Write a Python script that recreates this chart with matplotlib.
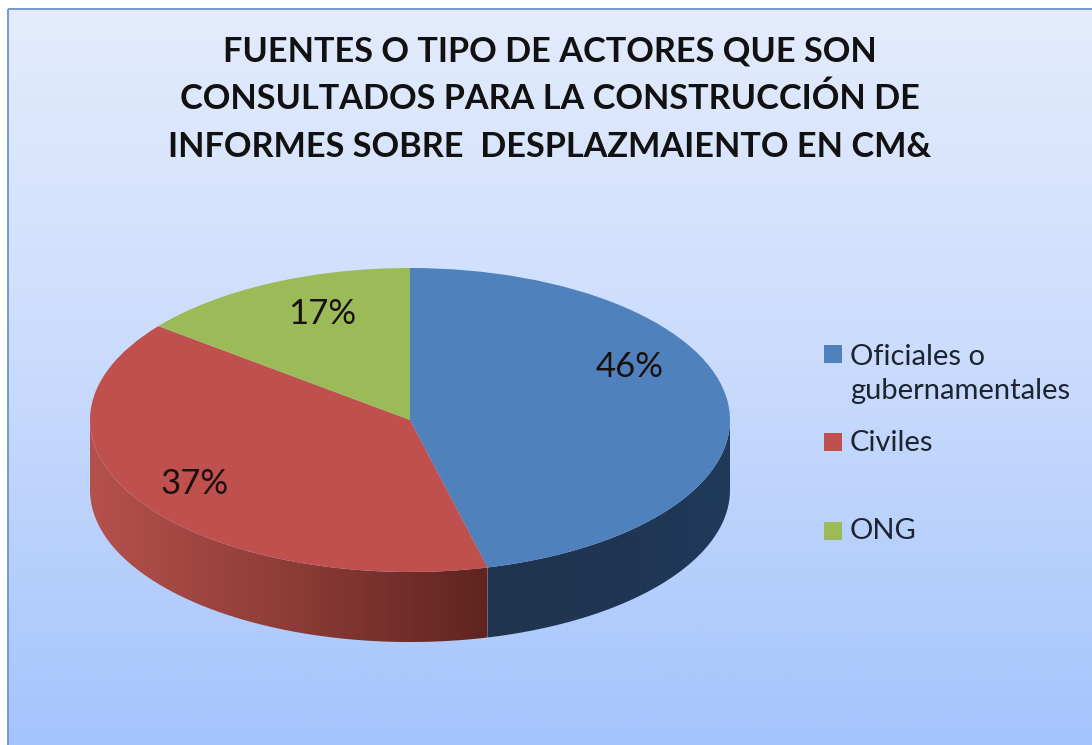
#!/usr/bin/env python3
"""3D-look pie: fuentes consultadas en CM&."""
import numpy as np
import matplotlib
matplotlib.use("Agg")
import matplotlib.pyplot as plt
from matplotlib.colors import LinearSegmentedColormap
from matplotlib.patches import Rectangle, Polygon

plt.rcParams["font.family"] = ["Lato", "DejaVu Sans"]

TITLE = ["FUENTES O TIPO DE ACTORES QUE SON",
         "CONSULTADOS PARA LA CONSTRUCCIÓN DE",
         "INFORMES SOBRE  DESPLAZMAIENTO EN CM&"]
categories = ["Oficiales o\ngubernamentales", "Civiles", "ONG"]
pct_labels = ["46%", "37%", "17%"]
# slice widths as seen on the tilted disc (rear is squeezed by the perspective)
slice_sizes = [46.1, 39.5, 14.4]
colors = ["#4F81BD", "#C0504D", "#9BBB59"]

W, H = 1092, 745
fig = plt.figure(figsize=(W/100, H/100), dpi=100)

bg = fig.add_axes([0, 0, 1, 1]); bg.axis("off")
cm = LinearSegmentedColormap.from_list("bgc", ["#E4ECFD", "#C9DBFC", "#A5C4FC"])
grad = np.linspace(0, 1, 256).reshape(-1, 1)
bg.imshow(grad, cmap=cm, extent=[8, W, H, 9], aspect="auto")
bg.set_xlim(0, W); bg.set_ylim(H, 0)
bg.add_patch(Rectangle((8, 9), W, H, fill=False, edgecolor="#6F9BD0", linewidth=1.4))

for txt, y in zip(TITLE, [51, 99, 147]):
    bg.text(550, y, txt, ha="center", va="center", fontsize=24.7, color="#111111",
            fontweight="bold")

# pie axes: unit disc squashed to the ellipse seen in the picture
cx, cy, rx, ry, depth = 410, 420, 320, 152, 70
ax = fig.add_axes([(cx-rx)/W, 1-(cy+ry+depth)/H, 2*rx/W, (2*ry+depth)/H])
ax.patch.set_alpha(0)
wedges, _ = ax.pie(slice_sizes, colors=colors, startangle=90, counterclock=False, radius=1,
                   wedgeprops={"linewidth": 0})
ax.set_aspect("auto")
d = depth/ry
ax.set_xlim(-1, 1); ax.set_ylim(-1-d, 1)


def wall(a0, a1, shades):
    # side wall between two angles: horizontal gradient clipped to the band
    th = np.radians(np.linspace(a0, a1, 200))
    x, y = np.cos(th), np.sin(th)
    band = np.column_stack([np.r_[x, x[::-1]], np.r_[y, y[::-1]-d]])
    im = ax.imshow(np.linspace(0, 1, 256).reshape(1, -1), aspect="auto",
                   cmap=LinearSegmentedColormap.from_list("w", shades),
                   extent=[x.min(), x.max(), -1-d, 1], zorder=0.5)
    im.set_clip_path(Polygon(band, transform=ax.transData))


split = 90-360*slice_sizes[0]/100+360
wall(180, split, ["#B5514D", "#8E3C37", "#5F241F"])
wall(split, 360, ["#20354F", "#1F3552", "#1F3A5A"])
ax.set_xlim(-1, 1); ax.set_ylim(-1-d, 1)

for txt, x, y in zip(pct_labels, [630, 195, 322], [367, 484, 314]):
    fig.text(x/W, 1-y/H, txt, ha="center", va="center", fontsize=25, color="#1a1010")

# legend
for lab, col, ys, yt in zip(categories, colors, [354, 442, 531], [374, 443, 531]):
    bg.add_patch(Rectangle((824, ys-9), 18, 18, facecolor=col, edgecolor="none"))
    bg.text(850, yt, lab, ha="left", va="center", fontsize=21, color="#1c2430", linespacing=1.4)

fig.savefig("out.png", dpi=100)
